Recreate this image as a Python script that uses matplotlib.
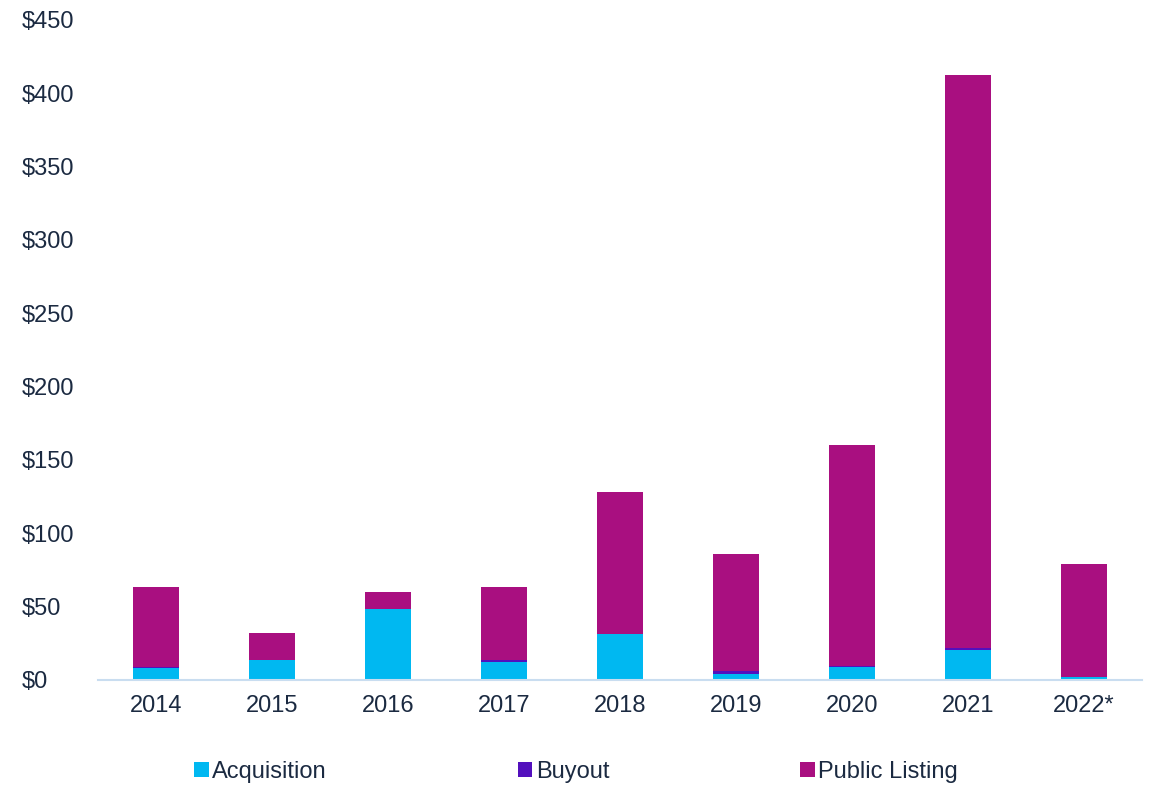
import matplotlib.pyplot as plt
import numpy as np

years = ['2014', '2015', '2016', '2017', '2018', '2019', '2020', '2021', '2022*']
acquisition = [8.2, 13.6, 48.0, 12.3, 31.4, 4.3, 9.1, 20.7, 1.8]
buyout = [0.3, 0.2, 0.3, 1.1, 0.2, 1.8, 0.2, 0.9, 0.1]
public_listing = [54.9, 18.2, 11.7, 50.0, 96.4, 79.9, 150.7, 390.4, 77.1]

c_acq = '#00B8F1'
c_buy = '#5310BD'
c_pub = '#A90F80'
txt = '#1B2A41'

plt.rcParams['font.family'] = ['Liberation Sans', 'DejaVu Sans']

fig = plt.figure(figsize=(11.5, 7.86), dpi=100)
ax = fig.add_axes([0.085, 0.135, 0.908, 0.84])

x = np.arange(len(years))
acq = np.array(acquisition)
buy = np.array(buyout)
pub = np.array(public_listing)
w = 0.4
ax.bar(x, acq, w, color=c_acq, label='Acquisition')
ax.bar(x, buy, w, bottom=acq, color=c_buy, label='Buyout')
ax.bar(x, pub, w, bottom=acq + buy, color=c_pub, label='Public Listing')

ax.set_xlim(-0.5, len(years) - 0.5)
ax.set_ylim(0, 450)
ax.set_yticks(range(0, 451, 50))
ax.set_yticklabels(['$' + str(v) for v in range(0, 451, 50)], ha='left')
ax.set_xticks(x)
ax.set_xticklabels(years)
ax.tick_params(axis='both', length=0, labelsize=17, colors=txt)
ax.tick_params(axis='x', pad=11)
ax.tick_params(axis='y', pad=55)
for s in ['top', 'right', 'left']:
    ax.spines[s].set_visible(False)
ax.spines['bottom'].set_color('#C9DDF0')
ax.spines['bottom'].set_linewidth(1.5)

handles, labels = ax.get_legend_handles_labels()
leg = fig.legend(handles, labels, loc='center', bbox_to_anchor=(0.501, 0.018), ncol=3,
                 frameon=False, fontsize=17, handlelength=0.6, handleheight=0.6,
                 handletextpad=0.15, columnspacing=8.1)
for t in leg.get_texts():
    t.set_color(txt)

fig.savefig('out.png', dpi=100)
